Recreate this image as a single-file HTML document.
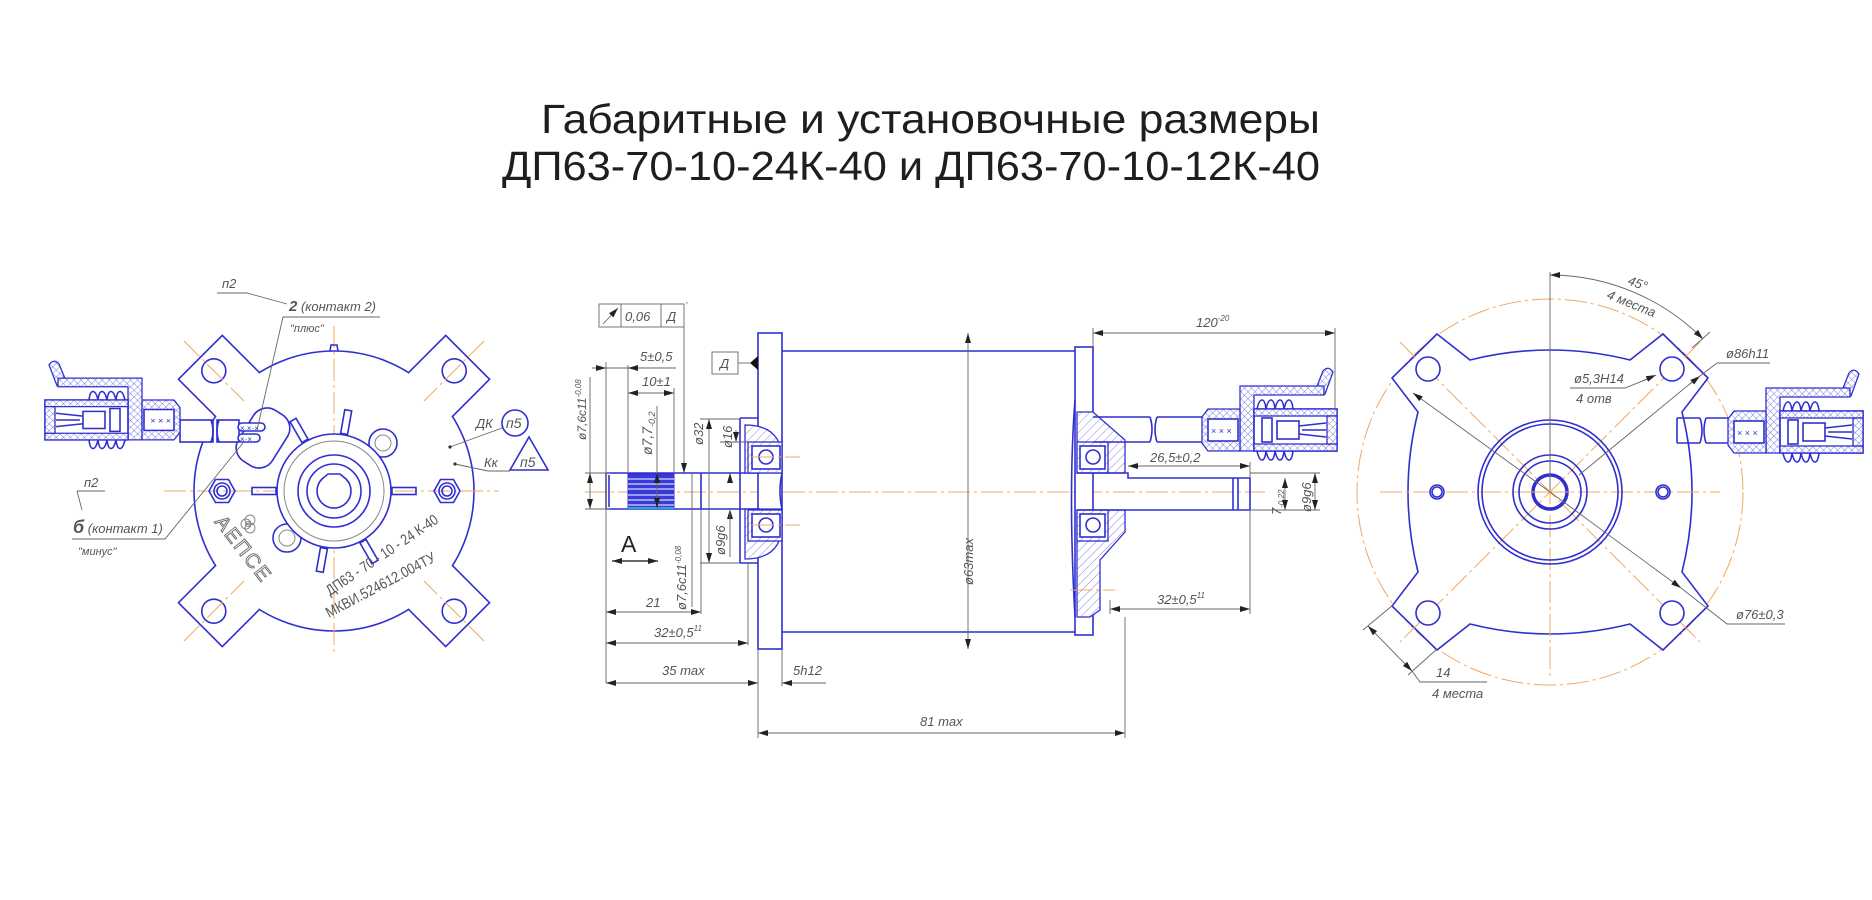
<!DOCTYPE html>
<html><head><meta charset="utf-8">
<style>
html,body{margin:0;padding:0;background:#fff;}
svg{display:block;}
.b{stroke:#2f2fd0;fill:none;stroke-width:1.6;}
.bw{stroke:#2f2fd0;fill:#fff;stroke-width:1.6;}
.bh{stroke:#2f2fd0;fill:url(#h);stroke-width:1.3;}
.bx{stroke:#2f2fd0;fill:url(#x);stroke-width:1.3;}
.o{stroke:#f0a860;fill:none;stroke-width:1;stroke-dasharray:22 4 3 4;}
.g{stroke:#666;fill:none;stroke-width:0.9;}
.gr{stroke:#888;fill:none;stroke-width:1;}
.t{font-family:"Liberation Sans",sans-serif;font-style:italic;font-size:13px;fill:#555;}
.tb{font-family:"Liberation Sans",sans-serif;font-style:italic;font-size:16px;fill:#555;}
</style></head><body>
<svg width="1872" height="900" viewBox="0 0 1872 900" xmlns="http://www.w3.org/2000/svg">
<defs>
<pattern id="h" width="6" height="6" patternUnits="userSpaceOnUse" patternTransform="rotate(45)">
<rect width="6" height="6" fill="#fff"/><line x1="0" y1="0" x2="0" y2="6" stroke="#6a6ad8" stroke-width="0.8"/></pattern>
<pattern id="x" width="5" height="5" patternUnits="userSpaceOnUse" patternTransform="rotate(45)">
<rect width="5" height="5" fill="#fff"/><line x1="0" y1="0" x2="0" y2="5" stroke="#4a4ad8" stroke-width="0.7"/><line x1="0" y1="0" x2="5" y2="0" stroke="#4a4ad8" stroke-width="0.7"/></pattern>
<marker id="a" viewBox="0 0 10 6" refX="10" refY="3" markerWidth="10" markerHeight="6" orient="auto-start-reverse" markerUnits="userSpaceOnUse">
<path d="M0,0 L10,3 L0,6 Z" fill="#222"/></marker>
<g id="conn">
  <path class="bx" d="M112,-15 L121,-38 Q126,-44 131,-37 L123,-15 Z"/>
  <path class="bx" d="M38,42 L38,-23 L122,-23 L122,-14 L52,-14 L52,42 Z"/>
  <path class="b" d="M55,0 q2,-9 5,-9 q3,0 4,9 q2,-9 5,-9 q3,0 4,9 q2,-9 5,-9 q3,0 4,9 q2,-9 5,-9 q3,0 4,9"/>
  <path class="b" d="M55,42 q2,9 5,9 q3,0 4,-9 q2,9 5,9 q3,0 4,-9 q2,9 5,9 q3,0 4,-9 q2,9 5,9 q3,0 4,-9"/>
  <path class="bx" d="M0,8 L6,0 L38,0 L38,42 L6,42 L0,34 Z"/>
  <rect x="6" y="10" width="30" height="22" class="bw"/>
  <text x="9" y="25" style="font-family:'Liberation Sans',sans-serif;font-size:9px;fill:#2f2fd0">× × ×</text>
  <rect x="52" y="0" width="83" height="42" class="b"/>
  <rect x="52" y="0" width="83" height="7" class="bx"/>
  <rect x="52" y="35" width="83" height="7" class="bx"/>
  <rect x="125" y="7" width="10" height="28" class="bx"/>
  <rect x="60" y="9" width="10" height="24" class="b"/>
  <rect x="75" y="12" width="22" height="18" class="b"/>
  <path class="b" d="M97,17 L124,14 M97,25 L124,28 M100,21 L124,21" stroke-width="1.2"/>
</g>
</defs>

<text x="541" y="133" textLength="779" lengthAdjust="spacingAndGlyphs" style="font-family:'Liberation Sans',sans-serif;font-size:41px;fill:#1e1e1e">Габаритные и установочные размеры</text>
<text x="502" y="180" textLength="818" lengthAdjust="spacingAndGlyphs" style="font-family:'Liberation Sans',sans-serif;font-size:41px;fill:#1e1e1e">ДП63-70-10-24К-40 и ДП63-70-10-12К-40</text>

<!-- LEFT VIEW -->
<g>
  <circle cx="334" cy="491" r="140" class="bw"/>
  <g transform="translate(334,491)">
    <g transform="rotate(-45) translate(0,-170)"><path d="M-31,34 L-31,-19 L31,-19 L31,34 Z" fill="#fff"/><path class="b" d="M-31,34 L-31,-19 L31,-19 L31,34"/><circle r="12" class="b"/></g>
    <g transform="rotate(45) translate(0,-170)"><path d="M-31,34 L-31,-19 L31,-19 L31,34 Z" fill="#fff"/><path class="b" d="M-31,34 L-31,-19 L31,-19 L31,34"/><circle r="12" class="b"/></g>
    <g transform="rotate(-135) translate(0,-170)"><path d="M-31,34 L-31,-19 L31,-19 L31,34 Z" fill="#fff"/><path class="b" d="M-31,34 L-31,-19 L31,-19 L31,34"/><circle r="12" class="b"/></g>
    <g transform="rotate(135) translate(0,-170)"><path d="M-31,34 L-31,-19 L31,-19 L31,34 Z" fill="#fff"/><path class="b" d="M-31,34 L-31,-19 L31,-19 L31,34"/><circle r="12" class="b"/></g>
    <line x1="-170" y1="0" x2="165" y2="0" class="o"/>
    <line x1="0" y1="-165" x2="0" y2="165" class="o"/>
    <line x1="-150" y1="-150" x2="-90" y2="-90" class="o"/><line x1="150" y1="-150" x2="90" y2="-90" class="o"/>
    <line x1="-150" y1="150" x2="-90" y2="90" class="o"/><line x1="150" y1="150" x2="90" y2="90" class="o"/>
    <path class="b" d="M-4,-140 L-3,-146 L3,-146 L4,-140"/>
    <g class="b" stroke-width="1.4">
      <rect x="58" y="-3.5" width="24" height="7" transform="rotate(0)"/>
      <rect x="58" y="-3.5" width="24" height="7" transform="rotate(180)"/>
      <rect x="58" y="-3.5" width="24" height="7" transform="rotate(-80)"/>
      <rect x="58" y="-3.5" width="24" height="7" transform="rotate(-120)"/>
      <rect x="58" y="-3.5" width="24" height="7" transform="rotate(100)"/>
      <rect x="58" y="-3.5" width="24" height="7" transform="rotate(60)"/>
    </g>
    <circle cx="49" cy="-48" r="14" class="bw"/><circle cx="49" cy="-48" r="8" class="gr"/>
    <circle cx="-47" cy="47" r="14" class="bw"/><circle cx="-47" cy="47" r="8" class="gr"/>
    <circle r="57" class="bw"/>
    <circle r="50" class="gr"/>
    <circle r="36" class="b"/>
    <circle r="27" class="b"/>
    <path class="b" d="M-12,-12 L-6,-17 L6,-17 L12,-12 A17,17 0 1 1 -12,-12 Z"/>
    <g transform="translate(-112,0)"><path class="b" d="M-13,0 L-6.5,-11.5 L6.5,-11.5 L13,0 L6.5,11.5 L-6.5,11.5 Z"/><circle r="8" class="b"/><circle r="5" class="b"/></g>
    <g transform="translate(113,0)"><path class="b" d="M-13,0 L-6.5,-11.5 L6.5,-11.5 L13,0 L6.5,11.5 L-6.5,11.5 Z"/><circle r="8" class="b"/><circle r="5" class="b"/></g>
    <g class="gr" stroke-width="0.9"><circle cx="-88" cy="33" r="5"/><circle cx="-84" cy="29" r="5"/><circle cx="-84" cy="37" r="5"/><circle cx="-86" cy="33" r="2.5"/></g>
  </g>
  <rect x="243" y="408" width="40" height="60" rx="16" class="bw" transform="rotate(32 263 438)"/>
  <rect x="180" y="420" width="33" height="22" class="bw"/>
  <rect x="217" y="420" width="22" height="22" class="bw"/>
  <path class="b" d="M211,420 q4,11 0,22 M219,420 q-4,11 0,22"/>
  <rect x="238" y="423" width="27" height="8" rx="4" class="bw"/>
  <rect x="238" y="434" width="22" height="8" rx="4" class="bw"/>
  <text x="240" y="431" style="font-family:'Liberation Sans',sans-serif;font-size:8px;fill:#2f2fd0">× ×·×</text>
  <text x="240" y="442" style="font-family:'Liberation Sans',sans-serif;font-size:8px;fill:#2f2fd0">×·×</text>
  <use href="#conn" transform="translate(180,400) scale(-1,1) scale(1,0.95)"/>
  <text x="330" y="596" transform="rotate(-34 330 596)" textLength="132" lengthAdjust="spacingAndGlyphs" style="font-family:'Liberation Sans',sans-serif;font-size:15px;fill:#555">ДП63 - 70 - 10 - 24 К-40</text>
  <text x="329" y="618" transform="rotate(-28 329 618)" textLength="122" lengthAdjust="spacingAndGlyphs" style="font-family:'Liberation Sans',sans-serif;font-size:15px;fill:#555">МКВИ.524612.004ТУ</text>
  <text x="214" y="522" transform="rotate(52 214 522)" style="font-family:'Liberation Sans',sans-serif;font-size:20px;fill:#fff;stroke:#666;stroke-width:0.9;letter-spacing:2px">АЕПСЕ</text>
  <text x="222" y="288" class="t">п2</text>
  <path class="g" d="M217,293 L247,293 L287,304"/>
  <text x="289" y="311" class="t"><tspan style="font-size:15px;font-weight:bold">2</tspan> (контакт 2)</text>
  <path class="g" d="M283,317 L380,317 M283,317 L257,430"/>
  <text x="290" y="332" class="t" style="font-size:11px">"плюс"</text>
  <text x="84" y="487" class="t">п2</text>
  <path class="g" d="M77,491 L105,491 M77,491 L82,510"/>
  <text x="73" y="533" class="t"><tspan style="font-size:18px;font-weight:bold">б</tspan> (контакт 1)</text>
  <path class="g" d="M72,539 L165,539 L243,443"/>
  <text x="78" y="555" class="t" style="font-size:11px">"минус"</text>
  <text x="476" y="428" class="t">ДК</text>
  <circle cx="515" cy="423" r="13" class="b"/>
  <text x="506" y="428" class="t" style="font-size:14px">п5</text>
  <path class="g" d="M450,447 L502,428"/>
  <circle cx="450" cy="447" r="1.6" fill="#333"/>
  <text x="484" y="467" class="t">Кк</text>
  <path class="b" d="M510,470 L529,437 L548,470 Z"/>
  <text x="520" y="467" class="t" style="font-size:14px">п5</text>
  <path class="g" d="M455,464 L488,471 L510,471"/>
  <circle cx="455" cy="464" r="1.6" fill="#333"/>
</g>

<!-- MIDDLE VIEW -->
<g>
  <line x1="585" y1="492" x2="1265" y2="492" class="o"/>
  <path class="b" d="M782,351 L1075,351 M782,632 L1075,632"/>
  <rect x="758" y="333" width="24" height="316" class="bw"/>
  <rect x="1075" y="347" width="18" height="288" class="bw"/>
  <path class="b" d="M606,473 L760,473 M606,509 L760,509 M606,473 L606,509 M609,475 L609,507 M701,473 L701,509"/>
  <rect x="628" y="474" width="46" height="34" fill="#3a3ad8" stroke="#2f2fd0"/>
  <g stroke="#fff" stroke-width="1"><line x1="628" y1="479" x2="674" y2="479"/><line x1="628" y1="484" x2="674" y2="484"/><line x1="628" y1="489" x2="674" y2="489"/><line x1="628" y1="495" x2="674" y2="495"/><line x1="628" y1="500" x2="674" y2="500"/><line x1="628" y1="505" x2="674" y2="505"/></g>
  <line x1="628" y1="508" x2="674" y2="508" stroke="#2cc" stroke-width="1.5"/>
  <path class="b" d="M740,418 L758,418 M740,563 L758,563 M740,418 L740,563"/>
  <path class="bh" d="M745,425 Q782,425 782,460 L782,473 L745,473 Z"/>
  <path class="bh" d="M745,559 Q782,559 782,524 L782,509 L745,509 Z"/>
  <rect x="748" y="442" width="34" height="31" class="bh"/><rect x="752" y="446" width="28" height="23" class="bw"/><circle cx="766" cy="457" r="7" class="b"/>
  <rect x="748" y="510" width="34" height="31" class="bh"/><rect x="752" y="514" width="28" height="23" class="bw"/><circle cx="766" cy="525" r="7" class="b"/>
  <line x1="752" y1="457" x2="800" y2="457" class="o"/><line x1="752" y1="525" x2="800" y2="525" class="o"/>
  <path class="b" d="M782,473 q-4,18 0,36"/>
  <path class="bh" d="M1077,412 L1093,412 L1125,440 L1125,473 L1077,473 Z"/>
  <path class="bh" d="M1077,510 L1125,510 L1125,532 L1100,560 L1100,610 L1090,617 L1077,617 Z"/>
  <rect x="1077" y="442" width="31" height="31" class="bh"/><rect x="1080" y="446" width="25" height="23" class="bw"/><circle cx="1093" cy="457" r="7" class="b"/>
  <rect x="1077" y="510" width="31" height="31" class="bh"/><rect x="1080" y="514" width="25" height="23" class="bw"/><circle cx="1093" cy="525" r="7" class="b"/>
  <path class="b" d="M1075,400 Q1068,492 1075,617"/>
  <line x1="1070" y1="590" x2="1115" y2="590" class="o"/>
  <path class="b" d="M1077,473 L1128,473 L1128,478 L1250,478 L1250,510 L1077,510 M1233,478 L1233,510 M1238,478 L1238,510"/>
  <path class="b" d="M1093,417 L1150,417 M1093,442 L1150,442 M1157,417 L1202,417 M1157,442 L1202,442 M1150,417 q4,12 0,25 M1157,417 q-4,12 0,25"/>
  <use href="#conn" transform="translate(1202,409)"/>
  <rect x="599" y="304" width="85" height="23" class="g"/>
  <path class="g" d="M621,304 L621,327 M661,304 L661,327 M684,327 L684,472"/>
  <path class="g" d="M603,324 L618,308" marker-end="url(#a)"/>
  <text x="625" y="321" class="t">0,06</text><text x="667" y="321" class="t">Д</text>
  <text x="686" y="303" class="t" style="font-size:9px">,</text>
  <line x1="684" y1="460" x2="684" y2="473" class="g" marker-end="url(#a)"/>
  <rect x="712" y="352" width="26" height="22" class="g"/><text x="720" y="368" class="t">Д</text>
  <path class="g" d="M738,363 L750,363"/><path d="M750,363 L758,356 L758,370 Z" fill="#111"/>
  <text x="640" y="361" class="t">5±0,5</text>
  <path class="g" d="M592,368 L676,368"/>
  <line x1="592" y1="368" x2="606" y2="368" class="g" marker-end="url(#a)"/><line x1="642" y1="368" x2="628" y2="368" class="g" marker-end="url(#a)"/>
  <text x="642" y="386" class="t">10±1</text>
  <line x1="628" y1="393" x2="674" y2="393" class="g" marker-start="url(#a)" marker-end="url(#a)"/>
  <path class="g" d="M606,362 L606,683 M628,365 L628,473 M674,388 L674,473 M590,377 L590,508 M657,406 L657,508"/>
  <line x1="585" y1="473" x2="610" y2="473" class="g"/><line x1="585" y1="509" x2="610" y2="509" class="g"/>
  <line x1="590" y1="480" x2="590" y2="473" class="g" marker-end="url(#a)"/><line x1="590" y1="500" x2="590" y2="509" class="g" marker-end="url(#a)"/>
  <text x="586" y="440" class="t" transform="rotate(-90 586 440)" style="font-size:12px">ø7,6c11<tspan dy="-5" style="font-size:8px">-0,08</tspan></text>
  <text x="652" y="455" class="t" transform="rotate(-90 652 455)" style="font-size:14px">ø7,7<tspan style="font-size:9px" dy="3">-0,2</tspan></text>
  <line x1="657" y1="478" x2="657" y2="473" class="g" marker-end="url(#a)"/><line x1="657" y1="503" x2="657" y2="508" class="g" marker-end="url(#a)"/>
  <text x="703" y="445" class="t" transform="rotate(-90 703 445)">ø32</text>
  <line x1="709" y1="419" x2="709" y2="563" class="g" marker-start="url(#a)" marker-end="url(#a)"/>
  <path class="g" d="M700,419 L740,419 M700,563 L740,563"/>
  <text x="732" y="448" class="t" transform="rotate(-90 732 448)">ø16</text>
  <line x1="736" y1="430" x2="736" y2="442" class="g" marker-end="url(#a)"/><line x1="720" y1="442" x2="748" y2="442" class="g"/>
  <text x="725" y="555" class="t" transform="rotate(-90 725 555)">ø9g6</text>
  <line x1="730" y1="478" x2="730" y2="473" class="g" marker-end="url(#a)"/><line x1="730" y1="520" x2="730" y2="509" class="g" marker-end="url(#a)"/>
  <path class="g" d="M730,509 L730,557"/>
  <text x="686" y="610" class="t" transform="rotate(-90 686 610)">ø7,6c11<tspan dy="-5" style="font-size:8px">-0,08</tspan></text>
  <path class="g" d="M692,473 L692,607"/>
  <text x="621" y="552" style="font-family:'Liberation Sans',sans-serif;font-size:23px;fill:#222">А</text>
  <line x1="612" y1="561" x2="658" y2="561" stroke="#111" stroke-width="1.2" marker-start="url(#a)" marker-end="url(#a)"/>
  <text x="646" y="607" class="t">21</text>
  <line x1="606" y1="612" x2="701" y2="612" class="g" marker-start="url(#a)" marker-end="url(#a)"/>
  <path class="g" d="M701,509 L701,614"/>
  <text x="654" y="637" class="t">32±0,5<tspan dy="-6" style="font-size:8px">11</tspan></text>
  <line x1="606" y1="643" x2="748" y2="643" class="g" marker-start="url(#a)" marker-end="url(#a)"/>
  <path class="g" d="M748,563 L748,645"/>
  <text x="662" y="675" class="t">35 max</text>
  <line x1="606" y1="683" x2="758" y2="683" class="g" marker-start="url(#a)" marker-end="url(#a)"/>
  <path class="g" d="M758,649 L758,738 M782,649 L782,686"/>
  <text x="793" y="675" class="t">5h12</text>
  <path class="g" d="M782,683 L826,683"/><line x1="800" y1="683" x2="782" y2="683" class="g" marker-end="url(#a)"/>
  <text x="920" y="726" class="t">81 max</text>
  <line x1="758" y1="733" x2="1125" y2="733" class="g" marker-start="url(#a)" marker-end="url(#a)"/>
  <path class="g" d="M1125,617 L1125,738"/>
  <line x1="968" y1="333" x2="968" y2="649" class="g" marker-start="url(#a)" marker-end="url(#a)"/>
  <text x="973" y="585" class="t" transform="rotate(-90 973 585)">ø63max</text>
  <text x="1196" y="327" class="t">120<tspan dy="-6" style="font-size:8px">-20</tspan></text>
  <line x1="1093" y1="333" x2="1335" y2="333" class="g" marker-start="url(#a)" marker-end="url(#a)"/>
  <path class="g" d="M1093,328 L1093,347 M1335,328 L1335,408"/>
  <text x="1150" y="462" class="t">26,5±0,2</text>
  <line x1="1128" y1="466" x2="1250" y2="466" class="g" marker-start="url(#a)" marker-end="url(#a)"/>
  <path class="g" d="M1250,462 L1250,478 M1250,473 L1320,473 M1250,510 L1320,510"/>
  <text x="1281" y="515" class="t" transform="rotate(-90 1281 515)">7<tspan dy="3" style="font-size:8px">-0,22</tspan></text>
  <line x1="1285" y1="478" x2="1285" y2="510" class="g" marker-start="url(#a)" marker-end="url(#a)"/>
  <text x="1311" y="512" class="t" transform="rotate(-90 1311 512)">ø9g6</text>
  <line x1="1315" y1="473" x2="1315" y2="510" class="g" marker-start="url(#a)" marker-end="url(#a)"/>
  <text x="1157" y="604" class="t">32±0,5<tspan dy="-6" style="font-size:8px">11</tspan></text>
  <line x1="1110" y1="609" x2="1250" y2="609" class="g" marker-start="url(#a)" marker-end="url(#a)"/>
  <path class="g" d="M1110,600 L1110,614 M1250,510 L1250,614"/>
</g>

<!-- RIGHT VIEW -->
<g>
  <circle cx="1550" cy="492" r="193" class="o"/>
  <g transform="translate(1550,492)">
    <path class="bw" d="M-113,-158 L-80,-132 Q0,-152 80,-132 L113,-158 L158,-114 L132,-80 Q152,0 132,80 L158,114 L113,158 L80,132 Q0,152 -80,132 L-113,158 L-158,114 L-132,80 Q-152,0 -132,-80 L-158,-114 Z"/>
    <line x1="-170" y1="0" x2="170" y2="0" class="o"/>
    <line x1="0" y1="-175" x2="0" y2="185" class="o"/>
    <line x1="-150" y1="-150" x2="150" y2="150" class="o"/>
    <line x1="150" y1="-150" x2="-150" y2="150" class="o"/>
    <circle cx="-122" cy="-123" r="12" class="bw"/><circle cx="122" cy="-123" r="12" class="bw"/>
    <circle cx="-122" cy="121" r="12" class="bw"/><circle cx="122" cy="121" r="12" class="bw"/>
    <circle cx="-113" cy="0" r="7" class="bw"/><circle cx="-113" cy="0" r="5" class="b"/>
    <circle cx="113" cy="0" r="7" class="bw"/><circle cx="113" cy="0" r="5" class="b"/>
    <circle r="72" class="b"/><circle r="68" class="b"/>
    <circle r="37" class="b"/><circle r="31" class="b"/>
    <circle r="17" stroke="#2f2fd0" stroke-width="3.5" fill="none"/>
    <line x1="-20" y1="0" x2="20" y2="0" class="o"/>
  </g>
  <line x1="1413" y1="393" x2="1550" y2="492" class="g" marker-start="url(#a)"/>
  <line x1="1550" y1="492" x2="1681" y2="588" class="g" marker-end="url(#a)"/>
  <path class="g" d="M1681,588 L1727,624 L1785,624"/>
  <text x="1736" y="619" class="t">ø76±0,3</text>
  <path class="g" d="M1579,475 L1697,378"/>
  <line x1="1690" y1="384" x2="1700" y2="376" class="g" marker-end="url(#a)"/>
  <path class="g" d="M1700,376 L1717,363 L1770,363"/>
  <text x="1726" y="358" class="t">ø86h11</text>
  <path class="g" d="M1570,388 L1625,388 L1650,378"/>
  <line x1="1640" y1="382" x2="1656" y2="375" class="g" marker-end="url(#a)"/>
  <text x="1574" y="383" class="t">ø5,3H14</text>
  <text x="1576" y="403" class="t">4 отв</text>
  <path class="g" d="M1550,272 L1550,490"/>
  <path class="g" d="M1550,275 A217,217 0 0 1 1703,339" marker-start="url(#a)" marker-end="url(#a)"/>
  <path class="g" d="M1692,348 L1710,332"/>
  <text x="1627" y="284" class="t" transform="rotate(20 1627 284)">45°</text>
  <text x="1606" y="298" class="t" transform="rotate(22 1606 298)">4 места</text>
  <path class="g" d="M1393,605 L1363,630 M1437,649 L1408,675"/>
  <line x1="1368" y1="626" x2="1412" y2="671" class="g" marker-start="url(#a)" marker-end="url(#a)"/>
  <path class="g" d="M1412,671 L1420,682 L1487,682"/>
  <text x="1436" y="677" class="t">14</text>
  <text x="1432" y="698" class="t">4 места</text>
  <path class="b" d="M1677,418 L1700,418 M1677,443 L1700,443 M1706,418 L1728,418 M1706,443 L1728,443 M1700,418 q4,12 0,25 M1706,418 q-4,12 0,25 M1677,418 L1677,443"/>
  <use href="#conn" transform="translate(1728,411)"/>
</g>
</svg>
</body></html>
